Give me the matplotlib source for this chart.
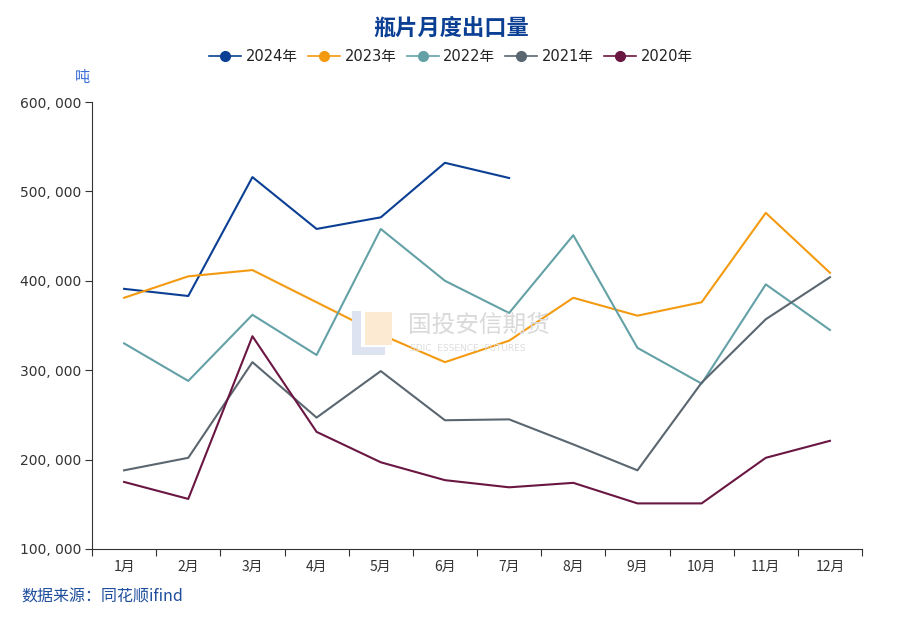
import matplotlib.pyplot as plt
from matplotlib.patches import Rectangle

plt.rcParams['font.family'] = ['Noto Sans CJK SC', 'DejaVu Sans']

months = ["1月", "2月", "3月", "4月", "5月", "6月", "7月", "8月", "9月", "10月", "11月", "12月"]
y2024 = [391000, 383000, 516000, 458000, 471000, 532000, 515000]
y2023 = [381000, 405000, 412000, 376000, 340000, 309000, 333000, 381000, 361000, 376000, 476000, 409000]
y2022 = [330000, 288000, 362000, 317000, 458000, 400000, 364000, 451000, 325000, 285000, 396000, 345000]
y2021 = [188000, 202000, 309000, 247000, 299000, 244000, 245000, 217000, 188000, 286000, 357000, 404000]
y2020 = [175000, 156000, 338000, 231000, 197000, 177000, 169000, 174000, 151000, 151000, 202000, 221000]
yticks = [100000, 200000, 300000, 400000, 500000, 600000]

series = [("2024年", y2024, "#0b3f94"),
          ("2023年", y2023, "#f39a10"),
          ("2022年", y2022, "#63a1a6"),
          ("2021年", y2021, "#5a6670"),
          ("2020年", y2020, "#6a1642")]

latin = ['DejaVu Sans', 'Noto Sans CJK SC']

fig = plt.figure(figsize=(9.02, 6.19), dpi=100, facecolor="white")
ax = fig.add_axes([0.102, 0.1131, 0.8537, 0.7221])

# watermark logo + text
fig.patches.append(Rectangle((0.39, 0.427), 0.037, 0.07, transform=fig.transFigure,
                             facecolor="#dde3f1", edgecolor="none", zorder=0))
fig.patches.append(Rectangle((0.4, 0.44), 0.027, 0.057, transform=fig.transFigure,
                             facecolor="white", edgecolor="none", zorder=0))
fig.patches.append(Rectangle((0.405, 0.442), 0.03, 0.054, transform=fig.transFigure,
                             facecolor="#fcebd2", edgecolor="none", zorder=0))
fig.text(0.452, 0.475, "国投安信期货", fontsize=17, color="#d9d9d9", va="center", zorder=0)
fig.text(0.455, 0.437, "SDIC  ESSENCE  FUTURES", fontsize=6.5, color="#dddddd",
         va="center", zorder=0, family=latin)

x = list(range(len(months)))
for name, vals, c in series:
    ax.plot(x[:len(vals)], vals, color=c, lw=1.5, label=name, zorder=3)

ax.set_xlim(-0.5, 11.5)
ax.set_ylim(100000, 600000)
ax.set_yticks(yticks)
ax.set_yticklabels([f"{v:,}".replace(",", ", ") for v in yticks], fontsize=10,
                   color="#333333", family=latin)
ax.set_xticks([i + 0.5 for i in range(-1, 12)])
ax.set_xticklabels([])
ax.set_xticks(x, minor=True)
ax.set_xticklabels(months, minor=True, fontsize=10, color="#333333")
ax.tick_params(axis="x", which="major", length=5, color="#333333")
ax.tick_params(axis="x", which="minor", length=0, pad=8)
ax.tick_params(axis="y", length=5, color="#333333", pad=3)
for s in ["top", "right"]:
    ax.spines[s].set_visible(False)
for s in ["left", "bottom"]:
    ax.spines[s].set_color("#333333")

fig.text(0.5, 0.955, "瓶片月度出口量", ha="center", va="center", fontsize=16,
         fontweight="bold", color="#0b3f94")
fig.text(0.092, 0.875, "吨", ha="center", va="center", fontsize=11, color="#3a6fd8")
fig.text(0.024, 0.035, "数据来源：同花顺ifind", ha="left", va="center", fontsize=11.5,
         color="#1f4e9c")

handles = [plt.Line2D([], [], color=c, lw=1.2, marker="o", markersize=7) for _, _, c in series]
leg = fig.legend(handles, [s[0] for s in series], loc="center", bbox_to_anchor=(0.5, 0.909),
                 ncol=5, frameon=False, handlelength=2.2, handletextpad=0.3,
                 columnspacing=0.7, prop={"family": latin, "size": 10.5})
for t in leg.get_texts():
    t.set_color("#222222")

fig.savefig("out.png", dpi=100)
